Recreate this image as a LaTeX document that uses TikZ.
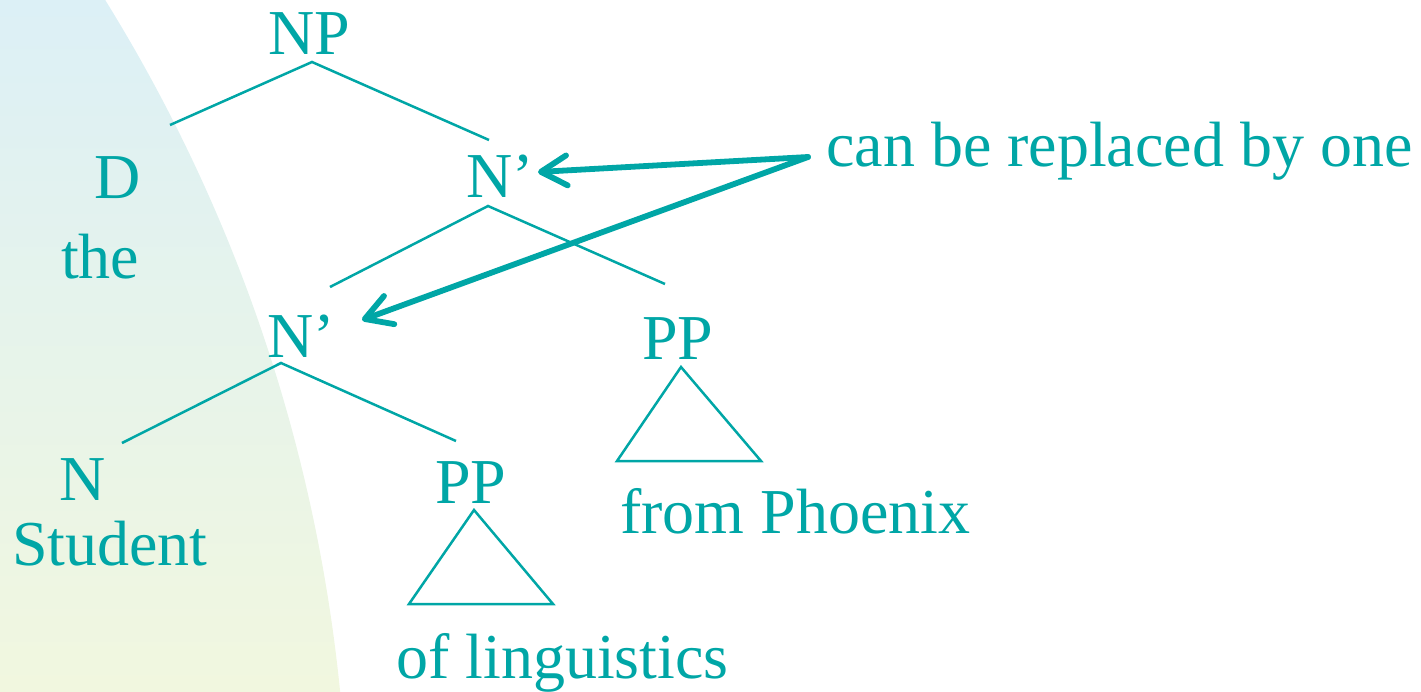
\documentclass[tikz,border=0pt]{standalone}
\usepackage{fontspec}
\setmainfont{Liberation Serif}
\usetikzlibrary{arrows.meta}
\definecolor{teal1}{RGB}{0,166,166}
\definecolor{bgtop}{RGB}{220,240,246}
\definecolor{bgbot}{RGB}{241,247,223}
\tikzset{
  lbl/.style={inner sep=0pt, anchor=base west, text=teal1, font=\fontsize{64}{70}\selectfont},
  branch/.style={draw=teal1, line width=2.5pt},
  pointer/.style={draw=teal1, line width=5.8pt, line cap=round,
    -{Straight Barb[length=26pt,width=30pt,round]}}
}
\begin{document}
\begin{tikzpicture}[x=1pt,y=-1pt]
\useasboundingbox (0,0) rectangle (1421,691);
% background
\begin{scope}
  \clip (-1277.7pt,-855.7pt) circle (1626pt);
  \shade[top color=bgtop, bottom color=bgbot] (0,0) rectangle (1421,691);
\end{scope}
% labels
\node[lbl] (np) at (268,54) {NP};
\node[lbl] (d) at (94,198) {D};
\node[lbl] (the) at (61,278) {the};
\node[lbl] (nb1) at (466,197) {N’};
\node[lbl] (nb2) at (267,357) {N’};
\node[lbl] (pp1) at (642,359) {PP};
\node[lbl] (pp2) at (435,503) {PP};
\node[lbl] (n) at (59,500) {N};
\node[lbl] (student) at (12,565) {Student};
\node[lbl] (phoenix) at (620,533) {from Phoenix};
\node[lbl] (ling) at (396,678) {of linguistics};
\node[lbl] (rep) at (826,166) {can be replaced by one};
% branch points
\coordinate (np-b) at (312,62);
\coordinate (d-t) at (170,125);
\coordinate (nb1-t) at (489,140);
\coordinate (nb1-b) at (488,206);
\coordinate (nb2-t) at (330,287);
\coordinate (pp1-t) at (665,284);
\coordinate (nb2-b) at (281,363);
\coordinate (n-t) at (122,443);
\coordinate (pp2-t) at (456,441);
% tree
\draw[branch] (d-t) -- (np-b) -- (nb1-t);
\draw[branch] (nb2-t) -- (nb1-b) -- (pp1-t);
\draw[branch] (n-t) -- (nb2-b) -- (pp2-t);
% triangles
\coordinate (tr1a) at (681,367);
\coordinate (tr1l) at (617,461);
\coordinate (tr1r) at (761,461);
\coordinate (tr2a) at (474,510);
\coordinate (tr2l) at (409,604);
\coordinate (tr2r) at (553,604);
\draw[branch, line join=miter] (tr1a) -- (tr1l) -- (tr1r) -- cycle;
\draw[branch, line join=miter] (tr2a) -- (tr2l) -- (tr2r) -- cycle;
% arrows
\coordinate (src) at (808,157);
\coordinate (tip1) at (538,172);
\coordinate (tip2) at (362,320);
\draw[pointer] (src) -- (tip1);
\draw[pointer] (src) -- (tip2);
\end{tikzpicture}
\end{document}
